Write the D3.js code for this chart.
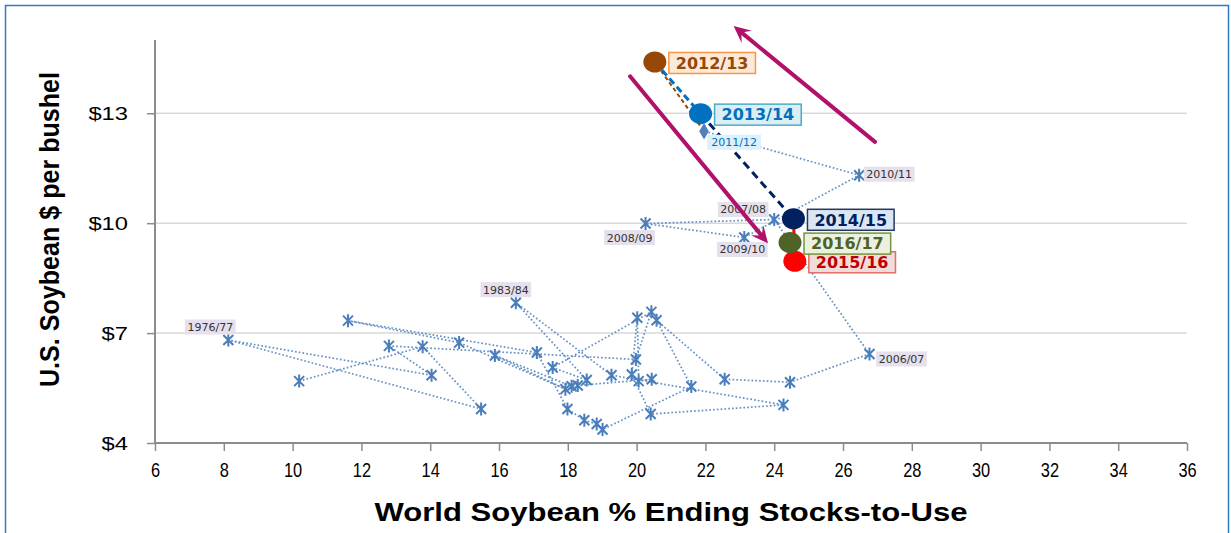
<!DOCTYPE html>
<html>
<head>
<meta charset="utf-8">
<script src="https://cdn.jsdelivr.net/npm/d3@7/dist/d3.min.js"></script>
<style>
  body { margin: 0; background: #fff; }
  svg { display: block; }
</style>
</head>
<body>
<div class="chart"></div>
<script>
// marketing years, world soybean ending stocks-to-use (%), US soybean price ($/bu)
const years = ["1973/74","1974/75","1975/76","1976/77","1977/78","1978/79","1979/80","1980/81",
  "1981/82","1982/83","1983/84","1984/85","1985/86","1986/87","1987/88","1988/89","1989/90",
  "1990/91","1991/92","1992/93","1993/94","1994/95","1995/96","1996/97","1997/98","1998/99",
  "1999/00","2000/01","2001/02","2002/03","2003/04","2004/05","2005/06","2006/07","2007/08",
  "2008/09","2009/10","2010/11","2011/12","2012/13","2013/14","2014/15","2015/16","2016/17"];
const stocksToUse = [10.19,13.78,15.48,8.13,14.04,12.80,19.98,20.43,
  17.56,18.55,16.49,19.27,24.27,20.41,19.86,20.02,20.06,
  20.44,18.29,18.11,15.88,17.93,14.84,11.61,17.10,17.99,
  18.48,18.84,19.01,21.59,20.58,22.56,24.46,26.77,24.00,
  20.26,23.13,26.47,21.96,20.53,21.86,24.56,24.60,24.46];
const prices = [5.69,6.63,4.93,6.81,5.85,6.65,6.28,7.58,
  6.06,5.72,7.83,5.85,5.04,4.79,5.87,7.42,5.69,
  5.74,5.57,5.55,6.39,5.47,6.74,7.34,6.47,4.93,
  4.62,4.52,4.37,5.54,7.35,5.74,5.66,6.43,10.10,
  9.99,9.61,11.31,12.51,14.40,12.99,10.12,8.96,9.47];

const xTicks = [6,8,10,12,14,16,18,20,22,24,26,28,30,32,34,36];
const yTicks = [4,7,10,13];

// years tagged with a small label, and the highlighted recent years
const labeledYears = ["1976/77","1983/84","2006/07","2007/08","2008/09","2009/10","2010/11","2011/12"];
const highlightYears = ["2012/13","2013/14","2014/15","2015/16","2016/17"];
const highlightFill = ["#974806","#0070c0","#002060","#ff0000","#4f6228"];
const highlightText = ["#974806","#0070c0","#002060","#c00000","#4f6228"];
const highlightBox = ["#fde9d9","#dbeef4","#dce6f2","#f2dcdb","#ebf1de"];
const highlightBorder = ["#f79646","#4bacc6","#1f3864","#e46c6a","#77933c"];

// trend arrows in data units [x1, y1, x2, y2]
const trendArrows = [[26.93,12.22,22.82,15.38],[19.81,14.01,23.82,9.45]];

const W = 1231, H = 533;
const margin = {top: 40, right: 44, bottom: 90, left: 155};
const width = W - margin.left - margin.right,
      height = H - margin.top - margin.bottom;

const data = years.map((d, i) => ({year: d, x: stocksToUse[i], y: prices[i]}));
const byYear = {};
data.forEach(d => byYear[d.year] = d);

const x = d3.scaleLinear().domain([6, 36]).range([0, width]);
const y = d3.scaleLinear().domain([4, 15]).range([height, 0]);

const axisFont = "'Liberation Sans', Arial, sans-serif";

// squeeze or stretch a text to a share of its natural width
function fitWidth(sel, factor) {
  sel.each(function() {
    const n = this.getComputedTextLength();
    d3.select(this).attr("textLength", n * factor).attr("lengthAdjust", "spacingAndGlyphs");
  });
}

const svg = d3.select(".chart").append("svg")
    .attr("width", W).attr("height", H);

// outer frame
svg.append("rect")
    .attr("x", 5.5).attr("y", 5.5)
    .attr("width", 1223).attr("height", 540)
    .attr("fill", "none").attr("stroke", "#2e7dc4").attr("stroke-width", 1.5);

const g = svg.append("g")
    .attr("transform", "translate(" + margin.left + "," + margin.top + ")");

// gridlines
g.selectAll(".grid").data(yTicks.filter(t => t > 4))
  .enter().append("line")
    .attr("x1", 0).attr("x2", width)
    .attr("y1", d => y(d)).attr("y2", d => y(d))
    .attr("stroke", "#d9d9d9").attr("stroke-width", 1.5);

// axes
const xAxis = d3.axisBottom(x).tickValues(xTicks).tickSize(8).tickPadding(11).tickFormat(d3.format("d"));
const yAxis = d3.axisLeft(y).tickValues(yTicks).tickSize(8).tickPadding(19).tickFormat(d => "$" + d);

const gx = g.append("g").attr("transform", "translate(0," + height + ")").call(xAxis);
const gy = g.append("g").call(yAxis);
[gx, gy].forEach(a => {
  a.select(".domain").attr("stroke", "#8c8c8c").attr("stroke-width", 2);
  a.selectAll(".tick line").attr("stroke", "#8c8c8c").attr("stroke-width", 1.5);
  a.selectAll(".tick text")
    .attr("fill", "#000")
    .style("font-family", axisFont);
});
gx.selectAll(".tick text").style("font-size", "21px").call(fitWidth, 0.78);
gy.selectAll(".tick text").style("font-size", "19px").call(fitWidth, 1.25);
gy.select(".domain").attr("d", "M0," + height + "V0");
gx.select(".domain").attr("d", "M0,0H" + width);

// axis titles
g.append("text")
    .attr("x", width / 2).attr("y", height + 78)
    .attr("text-anchor", "middle")
    .style("font-family", axisFont)
    .style("font-weight", "bold").style("font-size", "26px")
    .attr("textLength", 593).attr("lengthAdjust", "spacingAndGlyphs")
    .text("World Soybean % Ending Stocks-to-Use");

g.append("text")
    .attr("transform", "rotate(-90)")
    .attr("x", -(height / 2) + 12).attr("y", -margin.left + 59)
    .attr("text-anchor", "middle")
    .style("font-family", axisFont)
    .style("font-weight", "bold").style("font-size", "27px")
    .attr("textLength", 315).attr("lengthAdjust", "spacingAndGlyphs")
    .text("U.S. Soybean $ per bushel");

// dotted history path up to 2011/12
const histEnd = years.indexOf("2011/12");
const line = d3.line().x(d => x(d.x)).y(d => y(d.y));
g.append("path")
    .datum(data.slice(0, histEnd + 1))
    .attr("d", line)
    .attr("fill", "none")
    .attr("stroke", "#4a7ebb").attr("stroke-width", 1.7)
    .attr("stroke-dasharray", "1.7,2.1").attr("opacity", 0.85);

// links into highlighted years
const linkStyle = [
  {w: 2, dash: "4,3"}, {w: 3, dash: "7,4"}, {w: 3, dash: "8,5"}, {w: 3, dash: null}, {w: 3, dash: null}
];
const linkColor = ["#974806","#0070c0","#002060","#ff0000","#ff0000"];
highlightYears.forEach((yr, i) => {
  const k = years.indexOf(yr);
  const a = data[k - 1], b = data[k];
  g.append("line")
    .attr("x1", x(a.x)).attr("y1", y(a.y))
    .attr("x2", x(b.x)).attr("y2", y(b.y))
    .attr("stroke", linkColor[i]).attr("stroke-width", linkStyle[i].w)
    .attr("stroke-dasharray", linkStyle[i].dash);
});

// asterisk markers for history
const star = "M-5,-5L5,5M-5,5L5,-5M0,-6.5L0,6.5";
g.selectAll(".star").data(data.slice(0, histEnd))
  .enter().append("path")
    .attr("transform", d => "translate(" + x(d.x) + "," + y(d.y) + ")")
    .attr("d", star)
    .attr("stroke", "#4a7ebb").attr("stroke-width", 2).attr("fill", "none");

// 2011/12 diamond
const d1112 = byYear["2011/12"];
g.append("path")
    .attr("transform", "translate(" + x(d1112.x) + "," + y(d1112.y) + ")")
    .attr("d", d3.symbol().type(d3.symbolDiamond).size(80))
    .attr("fill", "#4f81bd");

// small year labels
const smallPos = {
  "1976/77": [-18, -13], "1983/84": [-10, -13], "2006/07": [32, 5],
  "2007/08": [-31, -10], "2008/09": [-16, 14], "2009/10": [-2, 12],
  "2010/11": [30, -1], "2011/12": [30, 11]
};
labeledYears.forEach(yr => {
  const d = byYear[yr], off = smallPos[yr];
  const blue = yr === "2011/12";
  const lg = g.append("g")
    .attr("transform", "translate(" + (x(d.x) + off[0]) + "," + (y(d.y) + off[1]) + ")");
  const t = lg.append("text")
    .attr("text-anchor", "middle").attr("dy", "0.36em")
    .style("font-family", "'DejaVu Sans', Verdana, sans-serif").style("font-size", "11px")
    .attr("fill", blue ? "#0070c0" : "#333")
    .text(yr);
  const bw = t.node().getComputedTextLength() + (blue ? 8 : 5);
  lg.insert("rect", "text")
    .attr("x", -bw / 2).attr("y", -7.5).attr("width", bw).attr("height", 15)
    .attr("fill", blue ? "#def0fc" : "#e5e0ec");
});

// arrows
trendArrows.forEach(a => {
  const x1 = x(a[0]), y1 = y(a[1]), x2 = x(a[2]), y2 = y(a[3]);
  const ang = Math.atan2(y2 - y1, x2 - x1);
  const L = 15, Wd = 8, notch = 10;
  const bx = x2 - notch * Math.cos(ang), by = y2 - notch * Math.sin(ang);
  g.append("line")
    .attr("x1", x1).attr("y1", y1).attr("x2", bx).attr("y2", by)
    .attr("stroke", "#b0116a").attr("stroke-width", 4).attr("stroke-linecap", "round");
  const px = -Math.sin(ang), py = Math.cos(ang);
  const backX = x2 - L * Math.cos(ang), backY = y2 - L * Math.sin(ang);
  g.append("path")
    .attr("d", "M" + x2 + "," + y2 +
      "L" + (backX + Wd * px - 2 * Math.cos(ang)) + "," + (backY + Wd * py - 2 * Math.sin(ang)) +
      "L" + bx + "," + by +
      "L" + (backX - Wd * px - 2 * Math.cos(ang)) + "," + (backY - Wd * py - 2 * Math.sin(ang)) + "Z")
    .attr("fill", "#b0116a");
});

// highlighted years: big markers with boxed labels
highlightYears.forEach((yr, i) => {
  const d = byYear[yr];
  const cx = x(d.x), cy = y(d.y);
  g.append("ellipse")
    .attr("cx", cx).attr("cy", cy).attr("rx", 11.5).attr("ry", 10.5)
    .attr("fill", highlightFill[i]);
  const lg = g.append("g").attr("transform", "translate(" + (cx + 14) + "," + (cy + 1) + ")");
  const t = lg.append("text")
    .attr("x", 7).attr("dy", "0.36em")
    .style("font-family", "'DejaVu Sans', Verdana, sans-serif")
    .style("font-weight", "bold").style("font-size", "16px")
    .attr("fill", highlightText[i])
    .text(yr);
  const bw = t.node().getComputedTextLength() + 14;
  lg.insert("rect", "text")
    .attr("x", 0).attr("y", -10.5).attr("width", bw).attr("height", 21)
    .attr("fill", highlightBox[i])
    .attr("stroke", highlightBorder[i]).attr("stroke-width", 1.5);
});
</script>
</body>
</html>
